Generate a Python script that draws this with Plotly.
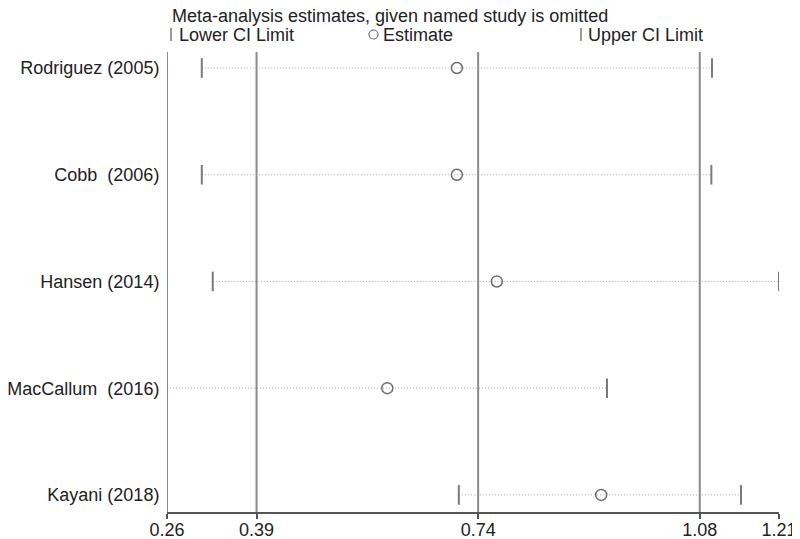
"""Influence analysis plot: meta-analysis estimates with one study omitted."""

import plotly.graph_objects as go

# Omitted study per row, top to bottom.
STUDIES = [
    "Rodriguez (2005)",
    "Cobb  (2006)",
    "Hansen (2014)",
    "MacCallum  (2016)",
    "Kayani (2018)",
]
ROW_POS = [5, 4, 3, 2, 1]

LOWER = [0.314, 0.314, 0.331, 0.260, 0.713]
ESTIMATE = [0.710, 0.710, 0.772, 0.602, 0.934]
UPPER = [1.106, 1.105, 1.210, 0.943, 1.151]

# Axis ticks: min, overall lower CI, overall estimate, overall upper CI, max.
TICK_VALS = [0.26, 0.399, 0.743, 1.087, 1.21]
TICK_TEXT = ["0.26", "0.39", "0.74", "1.08", "1.21"]
REF_LINES = [0.26, 0.399, 0.743, 1.087]

FONT = "Liberation Sans, Arial, sans-serif"
TEXT_COLOR = "#222222"
LINE_GRAY = "#8a8a8a"

# Page geometry (px). The page body adds an 8px offset, so the figure is
# shrunk by that much and the left/top margins are reduced to match.
PAGE_W, PAGE_H = 800, 539
BODY_PAD = 8
M_L, M_R, M_T, M_B = 167, 21, 52, 27
PLOT_W = PAGE_W - M_L - M_R
PLOT_H = PAGE_H - M_T - M_B


def px_x(x):
    return (x - M_L) / PLOT_W


def px_y(y):
    return 1 + (M_T - y) / PLOT_H


fig = go.Figure()

# Dotted CI lines, one per row.
for y, lo, hi in zip(ROW_POS, LOWER, UPPER):
    fig.add_trace(go.Scatter(
        x=[lo, hi], y=[y, y], mode="lines",
        line={"color": "#a8a8a8", "width": 1, "dash": "1px,2px"},
        hoverinfo="skip", showlegend=False,
    ))

fig.add_trace(go.Scatter(
    x=LOWER, y=ROW_POS, mode="markers", name="Lower CI Limit",
    marker={"symbol": "line-ns", "size": 14, "line": {"color": "#7a7a7a", "width": 2}},
    showlegend=False,
))
fig.add_trace(go.Scatter(
    x=UPPER, y=ROW_POS, mode="markers", name="Upper CI Limit",
    marker={"symbol": "line-ns", "size": 14, "line": {"color": "#7a7a7a", "width": 2}},
    showlegend=False,
))
fig.add_trace(go.Scatter(
    x=ESTIMATE, y=ROW_POS, mode="markers", name="Estimate",
    marker={"symbol": "circle-open", "size": 11, "color": "#6e6e6e",
            "line": {"color": "#6e6e6e", "width": 1.5}},
    showlegend=False,
))

shapes = []
for xv in REF_LINES:
    shapes.append({
        "type": "line", "xref": "x", "yref": "paper",
        "x0": xv, "x1": xv, "y0": 0, "y1": 1,
        "line": {"color": LINE_GRAY, "width": 2},
    })

# Header key: tick / circle / tick symbols.
for x_px in (171, 581):
    shapes.append({
        "type": "line", "xref": "paper", "yref": "paper",
        "x0": px_x(x_px), "x1": px_x(x_px), "y0": px_y(41), "y1": px_y(28),
        "line": {"color": "#7a7a7a", "width": 1.5},
    })
shapes.append({
    "type": "circle", "xref": "paper", "yref": "paper",
    "x0": px_x(369), "x1": px_x(378), "y0": px_y(39), "y1": px_y(30),
    "line": {"color": "#6e6e6e", "width": 1.2},
})

annotations = [
    {"text": "Meta-analysis estimates, given named study is omitted",
     "x": px_x(170), "y": px_y(16)},
    {"text": "Lower CI Limit", "x": px_x(177), "y": px_y(35)},
    {"text": "Estimate", "x": px_x(381), "y": px_y(35)},
    {"text": "Upper CI Limit", "x": px_x(586), "y": px_y(35)},
]
for a in annotations:
    a.update({"xref": "paper", "yref": "paper", "xanchor": "left",
              "yanchor": "middle", "showarrow": False,
              "font": {"family": FONT, "size": 18, "color": TEXT_COLOR}})

fig.update_layout(
    width=PAGE_W - BODY_PAD, height=PAGE_H - BODY_PAD,
    margin={"l": M_L - BODY_PAD, "r": M_R, "t": M_T - BODY_PAD, "b": M_B,
            "autoexpand": False},
    paper_bgcolor="white", plot_bgcolor="white",
    font={"family": FONT, "size": 18, "color": TEXT_COLOR},
    shapes=shapes, annotations=annotations,
    showlegend=False,
)
# Major ticks kept short so the labels sit close to the axis; the visible
# tick marks come from minor ticks at the same positions.
fig.update_xaxes(
    range=[0.26, 1.21], tickvals=TICK_VALS, ticktext=TICK_TEXT,
    showgrid=False, zeroline=False,
    showline=True, linecolor="#555555", linewidth=1.5,
    ticks="outside", ticklen=1, tickwidth=1.5, tickcolor="#555555",
    minor={"tickvals": TICK_VALS, "ticks": "outside", "ticklen": 5,
           "tickwidth": 1.5, "tickcolor": "#555555", "showgrid": False},
    tickfont={"size": 18}, automargin=False,
)
fig.update_yaxes(
    range=[0.84, 5.15], tickvals=ROW_POS, ticktext=STUDIES,
    showgrid=False, zeroline=False, showline=False,
    ticks="outside", ticklen=3, tickcolor="rgba(0,0,0,0)",
    tickfont={"size": 18}, automargin=False,
)

fig.write_html("out.html")
